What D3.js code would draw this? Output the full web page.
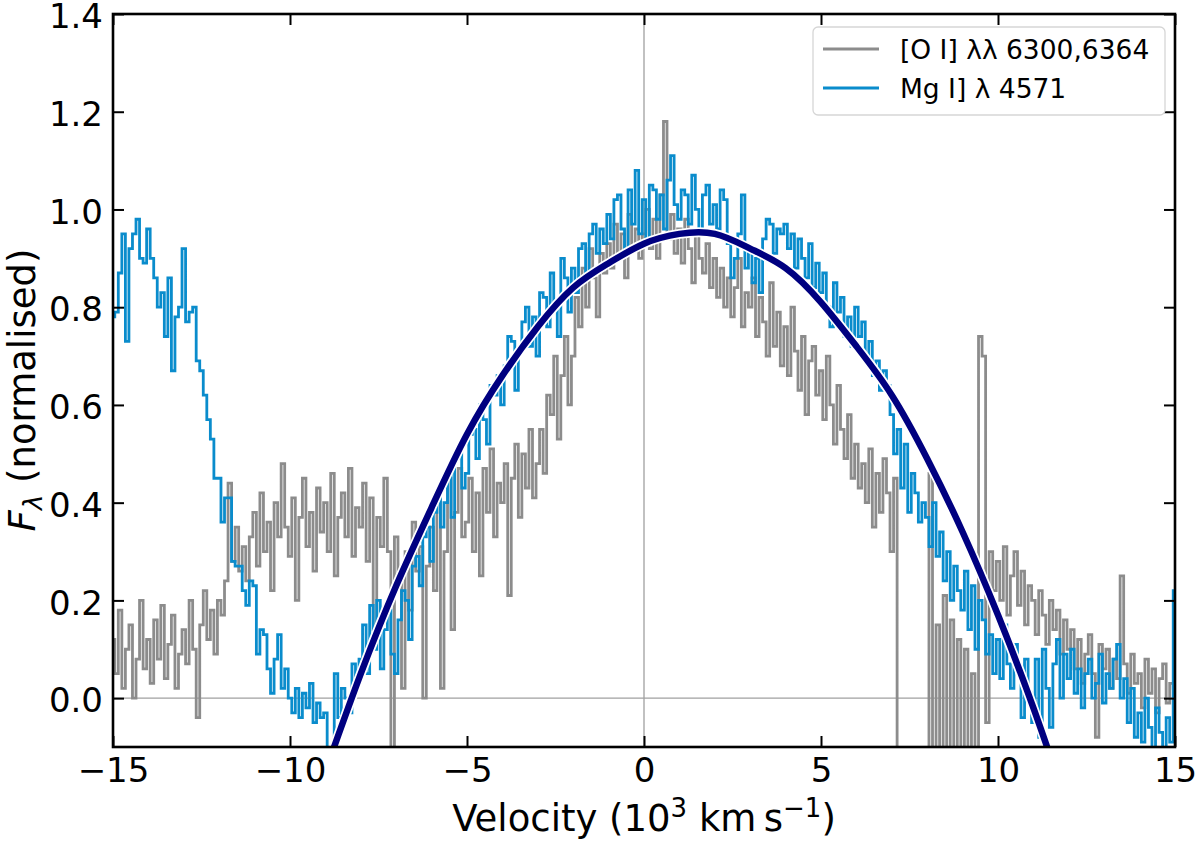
<!DOCTYPE html>
<html>
<head>
<meta charset="utf-8">
<script src="https://d3js.org/d3.v7.min.js"></script>
<style>
  body { margin: 0; background: #fff; }
  text { font-family: "DejaVu Sans", sans-serif; }
</style>
</head>
<body>
<svg width="1200" height="841"></svg>
<script>
// velocity grid of the spectra, in 10^3 km/s
var velStart = -15, velStep = 0.1;

// [O I] 6300,6364 normalised flux, one value per 0.1 bin from -15 to 15
var oiFlux = [
  0.12,0.05,0.18,0.02,0.10,0.15,0.00,0.08,0.20,0.06,   // -15
  0.12,0.03,0.16,0.08,0.19,0.04,0.11,0.17,0.02,0.09,   // -14
  0.14,0.07,0.20,0.10,-0.04,0.15,0.22,0.12,0.18,0.09,  // -13
  0.20,0.17,0.24,0.44,0.28,0.35,0.26,0.31,0.24,0.33,   // -12
  0.38,0.27,0.42,0.30,0.36,0.22,0.40,0.33,0.48,0.35,   // -11
  0.29,0.41,0.20,0.37,0.45,0.31,0.38,0.26,0.43,0.34,   // -10
  0.40,0.30,0.46,0.25,0.37,0.42,0.33,0.47,0.29,0.39,   // -9
  0.35,0.44,0.28,0.41,0.14,0.37,0.31,0.45,0.30,-0.15,  // -8
  0.33,0.24,0.02,0.30,0.18,0.36,0.26,0.31,0.00,0.27,   // -7
  0.35,0.22,0.41,0.02,0.30,0.45,0.14,0.38,0.47,0.33,   // -6
  0.36,0.45,0.30,0.42,0.25,0.47,0.38,0.51,0.33,0.44,   // -5
  0.40,0.48,0.21,0.45,0.52,0.37,0.50,0.43,0.55,0.41,   // -4
  0.48,0.55,0.46,0.62,0.58,0.70,0.53,0.66,0.74,0.60,   // -3
  0.70,0.82,0.76,0.88,0.80,0.92,0.86,0.78,0.91,0.87,   // -2
  0.93,0.88,0.97,0.90,0.95,0.86,0.99,0.92,0.96,0.90,   // -1
  0.95,1.00,0.92,0.98,0.90,1.03,1.18,0.94,0.99,0.91,   // 0
  0.96,0.89,0.98,0.92,0.85,0.95,0.90,0.87,0.93,0.84,   // 1
  0.90,0.82,0.88,0.80,0.86,0.78,0.84,0.90,0.76,0.83,   // 2
  0.80,0.86,0.74,0.82,0.77,0.70,0.85,0.72,0.79,0.68,   // 3
  0.76,0.66,0.80,0.71,0.63,0.74,0.58,0.69,0.72,0.62,   // 4
  0.67,0.57,0.70,0.60,0.52,0.64,0.55,0.49,0.58,0.45,   // 5
  0.52,0.43,0.48,0.40,0.51,0.35,0.46,0.38,0.49,0.42,   // 6
  0.30,0.45,-0.20,-0.20,-0.20,-0.20,-0.20,-0.20,-0.20,-0.20, // 7
  -0.20,0.46,-0.20,0.15,-0.20,0.21,-0.20,0.16,-0.20,0.12,    // 8
  -0.20,0.10,-0.20,0.05,-0.20,0.74,0.70,-0.05,0.30,0.22,     // 9
  0.28,0.20,0.31,0.17,0.25,0.30,0.19,0.26,0.15,0.23,   // 10
  0.20,0.13,0.22,0.17,0.11,0.20,0.14,0.18,0.09,0.16,   // 11
  0.10,0.14,0.06,0.12,0.03,0.09,0.13,0.05,-0.08,0.11,  // 12
  0.06,0.10,0.02,0.08,0.04,0.25,0.07,0.01,0.09,0.03,   // 13
  0.05,-0.02,0.08,0.01,0.06,-0.03,0.04,0.07,-0.01,0.03, // 14
  0.02
];

// Mg I] 4571 normalised flux, same grid
var mgFlux = [
  0.78,0.79,0.87,0.95,0.73,0.92,0.95,0.98,0.90,0.89,   // -15
  0.96,0.90,0.86,0.80,0.83,0.74,0.86,0.67,0.78,0.80,   // -14
  0.92,0.77,0.79,0.80,0.69,0.67,0.62,0.57,0.53,0.45,   // -13
  0.45,0.36,0.41,0.41,0.28,0.27,0.27,0.22,0.19,0.24,   // -12
  0.23,0.09,0.14,0.13,0.06,0.01,0.08,0.13,0.02,0.06,   // -11
  0.00,-0.03,0.02,-0.04,0.01,-0.02,0.03,-0.05,-0.01,-0.04, // -10
  -0.03,-0.12,-0.12,0.05,-0.04,0.02,0.00,-0.03,0.07,0.03,  // -9
  0.08,0.15,0.05,0.19,0.10,0.20,0.06,0.14,0.18,0.09,   // -8
  0.05,0.16,0.22,0.20,0.12,0.27,0.29,0.23,0.33,0.35,   // -7
  0.28,0.38,0.42,0.35,0.40,0.46,0.37,0.49,0.51,0.43,   // -6
  0.46,0.54,0.55,0.49,0.60,0.57,0.52,0.64,0.62,0.66,   // -5
  0.60,0.68,0.74,0.73,0.63,0.71,0.77,0.80,0.72,0.78,   // -4
  0.70,0.83,0.82,0.76,0.87,0.80,0.74,0.90,0.86,0.79,   // -3
  0.88,0.83,0.92,0.93,0.86,0.95,0.97,0.91,0.96,0.93,   // -2
  0.99,0.94,1.02,1.03,0.96,0.91,1.04,0.97,1.08,0.95,   // -1
  1.02,0.93,1.05,1.04,0.98,1.03,0.96,1.06,1.11,1.01,   // 0
  0.98,1.04,1.03,0.97,1.07,1.00,0.95,1.03,1.05,0.97,   // 1
  1.01,0.96,1.04,1.02,0.93,0.86,0.90,0.95,1.03,0.88,   // 2
  0.92,0.85,0.90,0.83,0.94,0.98,0.97,0.91,0.96,0.95,   // 3
  0.97,0.92,0.95,0.88,0.94,0.90,0.86,0.93,0.84,0.89,   // 4
  0.83,0.87,0.80,0.76,0.85,0.79,0.82,0.74,0.78,0.72,   // 5
  0.80,0.74,0.77,0.70,0.73,0.66,0.69,0.63,0.67,0.64,   // 6
  0.58,0.50,0.55,0.43,0.52,0.38,0.46,0.42,0.36,0.40,   // 7
  0.37,0.31,0.40,0.29,0.34,0.24,0.30,0.20,0.27,0.22,   // 8
  0.18,0.26,0.14,0.23,0.10,0.20,0.16,0.09,0.13,0.05,   // 9
  0.12,0.04,0.15,0.07,0.02,0.11,0.05,-0.04,0.08,0.01,  // 10
  -0.05,0.08,-0.08,0.10,0.02,-0.06,0.07,0.12,0.00,0.09, // 11
  0.04,0.10,0.01,0.06,-0.02,0.05,0.08,0.00,0.03,0.09,  // 12
  -0.01,0.05,0.02,0.08,0.11,0.00,0.04,-0.05,0.02,-0.08, // 13
  -0.03,-0.09,0.00,-0.06,-0.12,-0.02,-0.07,-0.12,-0.04,-0.09, // 14
  0.22
];

// model profile
var fitVel  = [-9,-8,-7,-6,-5,-4,-3,-2,-1,0,1,2,3,4,5,6,7,8,9,10,11,12];
var fitFlux = [-0.15,0.05,0.23,0.39,0.54,0.66,0.76,0.84,0.89,0.93,0.95,0.95,0.92,0.88,0.81,0.72,0.62,0.49,0.34,0.17,-0.02,-0.23];

var xTicks = [-15,-10,-5,0,5,10,15];
var yTicks = [0.0,0.2,0.4,0.6,0.8,1.0,1.2,1.4];

var legendItems = [
  {label: "[O I] \u03bb\u03bb 6300,6364", color: "#8c8c8c"},
  {label: "Mg I] \u03bb 4571", color: "#0a8ccc"}
];

var m = {left: 113, right: 1175, top: 14, bottom: 747};

var svg = d3.select("svg");
var x = d3.scaleLinear().domain([-15, 15]).range([m.left, m.right]);
var y = d3.scaleLinear().domain([-0.1, 1.4]).range([m.bottom, m.top]);

svg.append("clipPath").attr("id", "plotclip")
  .append("rect")
  .attr("x", m.left).attr("y", m.top)
  .attr("width", m.right - m.left).attr("height", m.bottom - m.top);

var plot = svg.append("g").attr("clip-path", "url(#plotclip)");

// zero lines
plot.append("line")
  .attr("x1", x(0)).attr("x2", x(0))
  .attr("y1", y(-0.1)).attr("y2", y(1.4))
  .attr("stroke", "#a0a0a0").attr("stroke-width", 1.3);
plot.append("line")
  .attr("x1", x(-15)).attr("x2", x(15))
  .attr("y1", y(0)).attr("y2", y(0))
  .attr("stroke", "#a0a0a0").attr("stroke-width", 1.3);

var step = d3.line()
  .x(function(d, i) { return x(velStart + i * velStep); })
  .y(function(d) { return y(d); })
  .curve(d3.curveStep);

plot.append("path")
  .attr("d", step(oiFlux))
  .attr("fill", "none")
  .attr("stroke", legendItems[0].color)
  .attr("stroke-width", 2.8);

plot.append("path")
  .attr("d", step(mgFlux))
  .attr("fill", "none")
  .attr("stroke", legendItems[1].color)
  .attr("stroke-width", 2.8);

var fitLine = d3.line()
  .x(function(d, i) { return x(fitVel[i]); })
  .y(function(d) { return y(d); })
  .curve(d3.curveNatural);

plot.append("path")
  .attr("d", fitLine(fitFlux))
  .attr("fill", "none")
  .attr("stroke", "#ffffff")
  .attr("stroke-width", 10);
plot.append("path")
  .attr("d", fitLine(fitFlux))
  .attr("fill", "none")
  .attr("stroke", "#000080")
  .attr("stroke-width", 6.5);

// axes, ticks pointing inwards on all four sides
var fmtY = d3.format(".1f");
var gx = svg.append("g").attr("transform", "translate(0," + m.bottom + ")")
  .call(d3.axisBottom(x).tickValues(xTicks).tickSizeInner(-11).tickSizeOuter(0).tickPadding(11).tickFormat(d3.format("d")));
var gxt = svg.append("g").attr("transform", "translate(0," + m.top + ")")
  .call(d3.axisTop(x).tickValues(xTicks).tickSizeInner(-11).tickSizeOuter(0).tickFormat(""));
var gy = svg.append("g").attr("transform", "translate(" + m.left + ",0)")
  .call(d3.axisLeft(y).tickValues(yTicks).tickSizeInner(-11).tickSizeOuter(0).tickPadding(10).tickFormat(fmtY));
var gyr = svg.append("g").attr("transform", "translate(" + m.right + ",0)")
  .call(d3.axisRight(y).tickValues(yTicks).tickSizeInner(-11).tickSizeOuter(0).tickFormat(""));

[gx, gxt, gy, gyr].forEach(function(g) {
  g.select(".domain").remove();
  g.selectAll(".tick line").attr("stroke", "#000").attr("stroke-width", 2);
  g.selectAll(".tick text").attr("font-size", 34).attr("fill", "#000")
    .style("font-family", "'DejaVu Sans', sans-serif");
});
gy.selectAll(".tick text").attr("dy", "0.4em");

svg.append("rect")
  .attr("x", m.left).attr("y", m.top)
  .attr("width", m.right - m.left).attr("height", m.bottom - m.top)
  .attr("fill", "none").attr("stroke", "#000").attr("stroke-width", 2.6);

// axis labels
var xl = svg.append("text")
  .attr("x", (m.left + m.right) / 2).attr("y", 831)
  .attr("text-anchor", "middle").attr("font-size", 37);
xl.append("tspan").text("Velocity (10");
xl.append("tspan").attr("font-size", 26).attr("dy", -14).text("3");
xl.append("tspan").attr("dy", 14).text(" km\u2009s");
xl.append("tspan").attr("font-size", 26).attr("dy", -14).text("\u22121");
xl.append("tspan").attr("dy", 14).text(")");

var yl = svg.append("text")
  .attr("transform", "translate(35,390) rotate(-90)")
  .attr("text-anchor", "middle").attr("font-size", 37);
yl.append("tspan").attr("font-style", "italic").text("F");
yl.append("tspan").attr("font-size", 26).attr("font-style", "italic").attr("dy", 7).text("\u03bb");
yl.append("tspan").attr("dy", -7).text(" (normalised)");

// legend
var lg = svg.append("g");
lg.append("rect")
  .attr("x", 813).attr("y", 27).attr("width", 352).attr("height", 88)
  .attr("rx", 5).attr("fill", "#fff").attr("fill-opacity", 0.85)
  .attr("stroke", "#d6d6d6").attr("stroke-width", 1.3);
var li = lg.selectAll("g.item").data(legendItems).enter().append("g")
  .attr("class", "item")
  .attr("transform", function(d, i) { return "translate(823," + (49 + i * 39) + ")"; });
li.append("line").attr("x1", 0).attr("x2", 56)
  .attr("stroke", function(d) { return d.color; }).attr("stroke-width", 2.8);
li.append("text").attr("x", 77).attr("y", 9.5).attr("font-size", 26.5)
  .text(function(d) { return d.label; });
</script>
</body>
</html>
